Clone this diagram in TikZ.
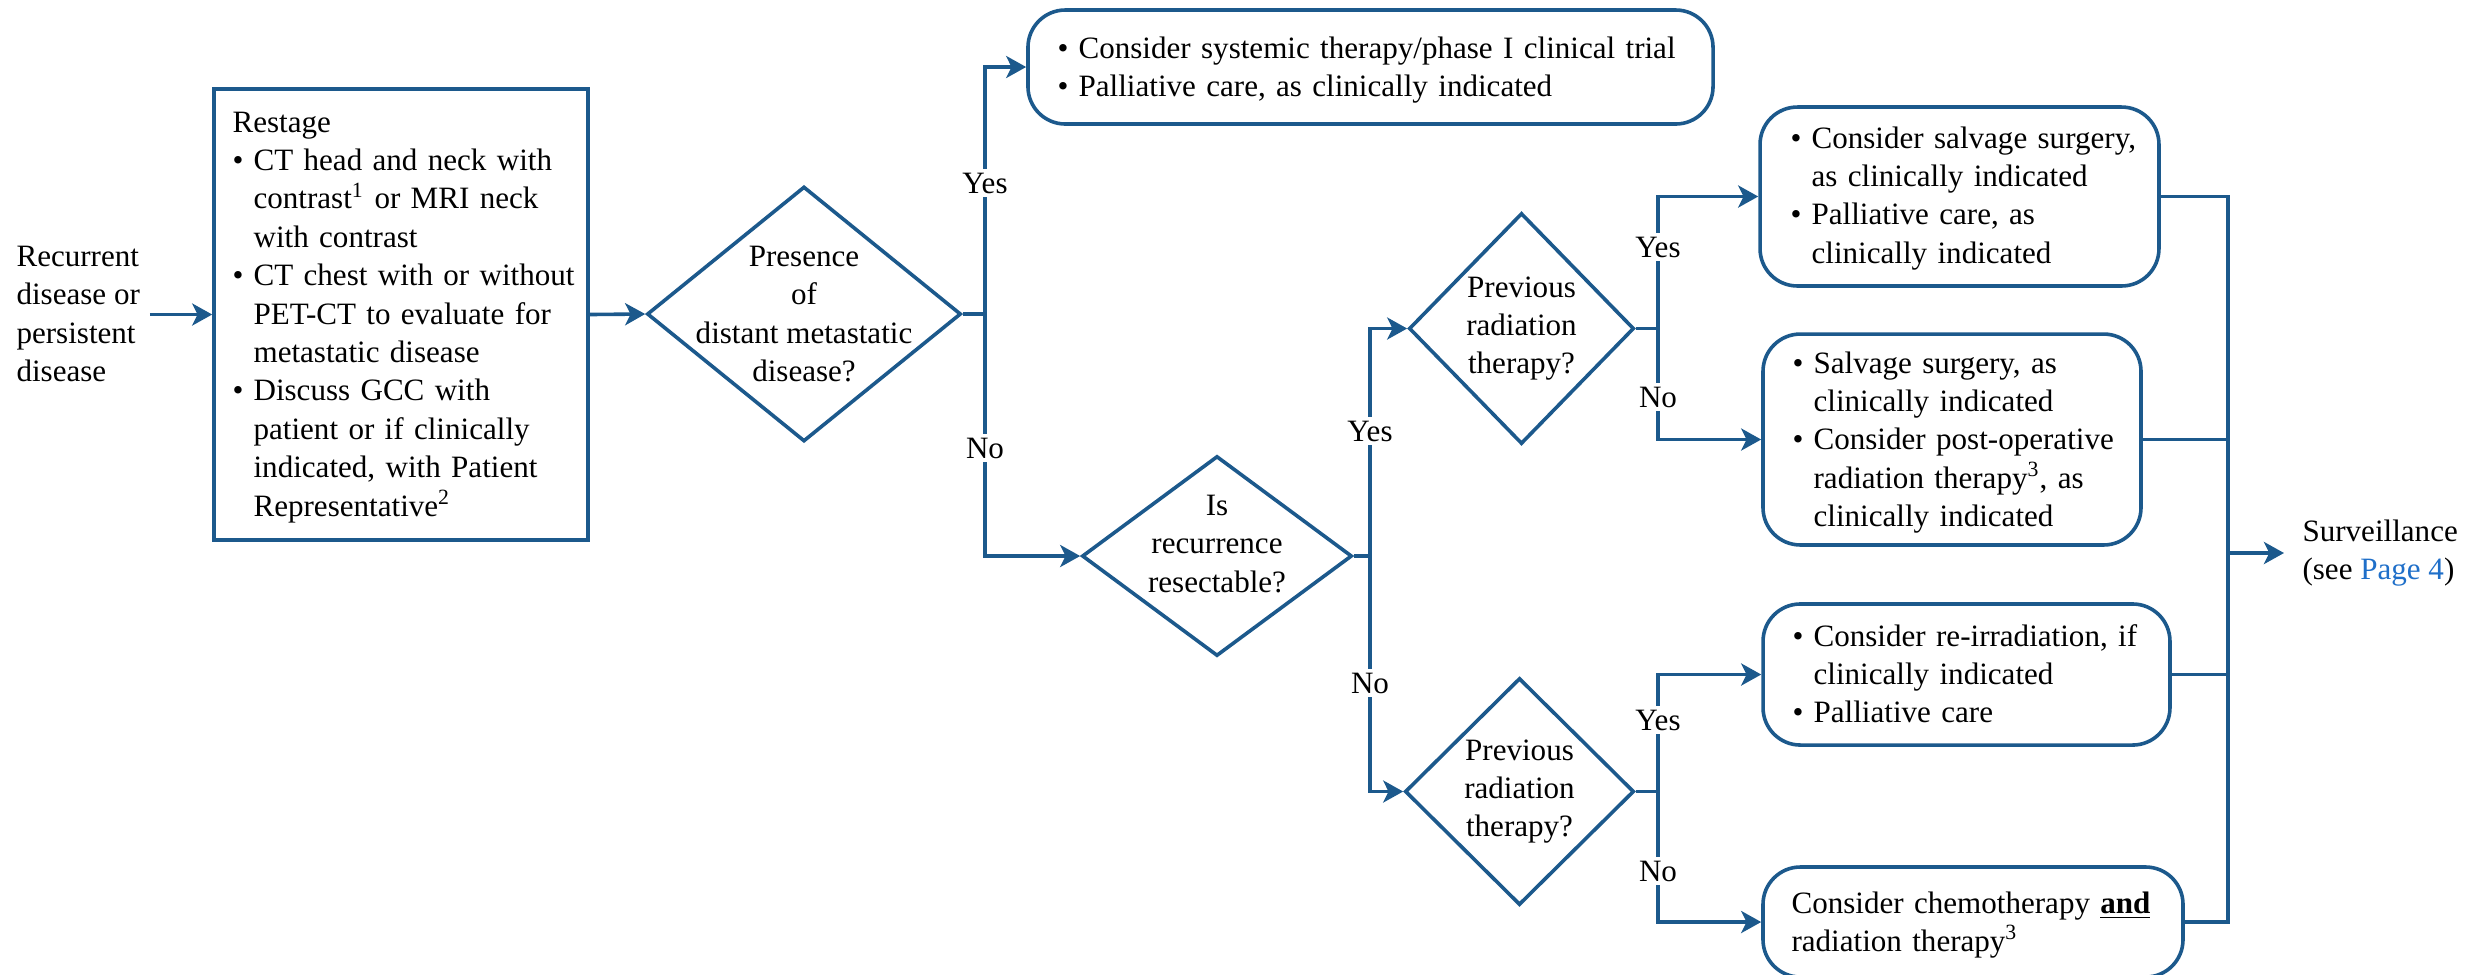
\documentclass[tikz,border=0pt]{standalone}
\usepackage{fontspec}
\setmainfont{Liberation Serif}
\usetikzlibrary{arrows.meta,shapes.geometric,calc}
\definecolor{lb}{RGB}{28,89,140}
\definecolor{linkblue}{RGB}{31,111,201}
\newlength{\bw}\setlength{\bw}{7.9pt}
\newcommand{\nl}{\hfil\break}
\newcommand{\bul}[1]{\noindent\hangindent=\bw\hangafter=1\makebox[\bw][l]{\textbullet}#1\par}
\begin{document}
\begin{tikzpicture}[x=0.375pt,y=-0.375pt,
  every node/.style={font=\fontsize{11.65pt}{14.4pt}\selectfont},
  ln/.style={draw=lb, line width=1.35pt},
  arr/.style={ln, -{Stealth[length=7.5pt,width=8.25pt,inset=2pt]}},
  dia/.style={diamond, draw=lb, line width=1.35pt, inner sep=0pt},
  rbox/.style={draw=lb, line width=1.35pt, rounded corners=14pt, inner sep=0pt},
  sqbox/.style={draw=lb, line width=1.35pt, inner sep=0pt},
  txt/.style={inner sep=0pt, text width=#1, align=left, anchor=base west},
  lbl/.style={fill=white, inner sep=1.5pt}]
\useasboundingbox (0,0) rectangle (2489,974);

% boxes
\node[sqbox, minimum width=140.25pt, minimum height=169.1pt] (restage) at (401,314.5) {};
\node[rbox, minimum width=256.9pt, minimum height=42.75pt] (box1) at (1370.5,67) {};
\node[rbox, minimum width=149.6pt, minimum height=67.1pt] (box3) at (1959.5,196.5) {};
\node[rbox, minimum width=141.75pt, minimum height=79.1pt] (box4) at (1952,439.5) {};
\node[rbox, minimum width=152.6pt, minimum height=52.9pt] (box5) at (1966.5,674.5) {};
\node[rbox, minimum width=157.5pt, minimum height=41.25pt] (box6) at (1973,922) {};

% diamonds
\node[dia, minimum width=117.75pt, minimum height=95.6pt] (d1) at (804,314) {};
\node[dia, minimum width=101.25pt, minimum height=75pt] (d2) at (1217,556) {};
\node[dia, minimum width=84.4pt, minimum height=86.6pt] (d3) at (1521.5,328.5) {};
\node[dia, minimum width=85.9pt, minimum height=85.1pt] (d4) at (1519.5,791.5) {};

% texts
\node[anchor=west, align=left, inner sep=0pt] (rec) at (16,314) {Recurrent\\disease or\\persistent\\disease};
\node[txt=200pt] (restaget) at (232,132) {Restage\par
\bul{CT head and neck with\nl contrast\textsuperscript{1} or MRI neck\nl with contrast}
\bul{CT chest with or without\nl PET-CT to evaluate for\nl metastatic disease}
\bul{Discuss GCC with\nl patient or if clinically\nl indicated, with Patient\nl Representative\textsuperscript{2}}};
\node[txt=300pt] (box1t) at (1057,58) {\bul{Consider systemic therapy/phase I clinical trial}
\bul{Palliative care, as clinically indicated}};
\node[txt=200pt] (box3t) at (1790,148) {\bul{Consider salvage surgery,\nl as clinically indicated}
\bul{Palliative care, as\nl clinically indicated}};
\node[txt=200pt] (box4t) at (1792,373) {\bul{Salvage surgery, as\nl clinically indicated}
\bul{Consider post-operative\nl radiation therapy\textsuperscript{3}, as\nl clinically indicated}};
\node[txt=200pt] (box5t) at (1792,646) {\bul{Consider re-irradiation, if\nl clinically indicated}
\bul{Palliative care}};
\node[txt=200pt] (box6t) at (1791,913) {Consider chemotherapy \underline{\textbf{and}}\nl radiation therapy\textsuperscript{3}};

\node[align=center, inner sep=0pt] (d1t) at (d1) {Presence\\of\\distant metastatic\\disease?};
\node[align=center, inner sep=0pt] (d2t) at (1217,544) {Is\\recurrence\\resectable?};
\node[align=center, inner sep=0pt] (d3t) at (d3) {Previous\\radiation\\therapy?};
\node[align=center, inner sep=0pt] (d4t) at (d4) {Previous\\radiation\\therapy?};

\node[anchor=west, align=left, inner sep=0pt] (surv) at (2302,553) {Surveillance\\(see \textcolor{linkblue}{Page 4})};

% junctions
\coordinate (j1) at (985,314);
\coordinate (j2) at (1370,556);
\coordinate (j3) at (1658,328.5);
\coordinate (j4) at (1658,791.5);
\coordinate (jx) at (2228,0);

% connectors
\draw[arr] ([xshift=3.5pt]rec.east |- restage.west) -- (restage.west);
\draw[arr] (restage.east) -- (d1.west);
\draw[ln] (d1.east) -- (j1);
\draw[arr] (j1) |- (box1.west);
\draw[arr] (j1) |- (d2.west);
\draw[ln] (d2.east) -- (j2);
\draw[arr] (j2) |- (d3.west);
\draw[arr] (j2) |- (d4.west);
\draw[ln] (d3.east) -- (j3);
\draw[arr] (j3) |- (box3.west);
\draw[arr] (j3) |- (box4.west);
\draw[ln] (d4.east) -- (j4);
\draw[arr] (j4) |- (box5.west);
\draw[arr] (j4) |- (box6.west);
\draw[ln] (box3.east) -- (box3.east -| jx) -- (box6.east -| jx) -- (box6.east);
\draw[ln] (box4.east) -- (box4.east -| jx);
\draw[ln] (box5.east) -- (box5.east -| jx);
\draw[arr] (surv.west -| jx) -- ([xshift=-6.75pt]surv.west);

% labels
\node[lbl] (y1) at (985,183) {Yes};
\node[lbl] (n1) at (985,448) {No};
\node[lbl] (y2) at (1370,431) {Yes};
\node[lbl] (n2) at (1370,683) {No};
\node[lbl] (y3) at (1658,247) {Yes};
\node[lbl] (n3) at (1658,397) {No};
\node[lbl] (y4) at (1658,720) {Yes};
\node[lbl] (n4) at (1658,871) {No};
\end{tikzpicture}
\end{document}
